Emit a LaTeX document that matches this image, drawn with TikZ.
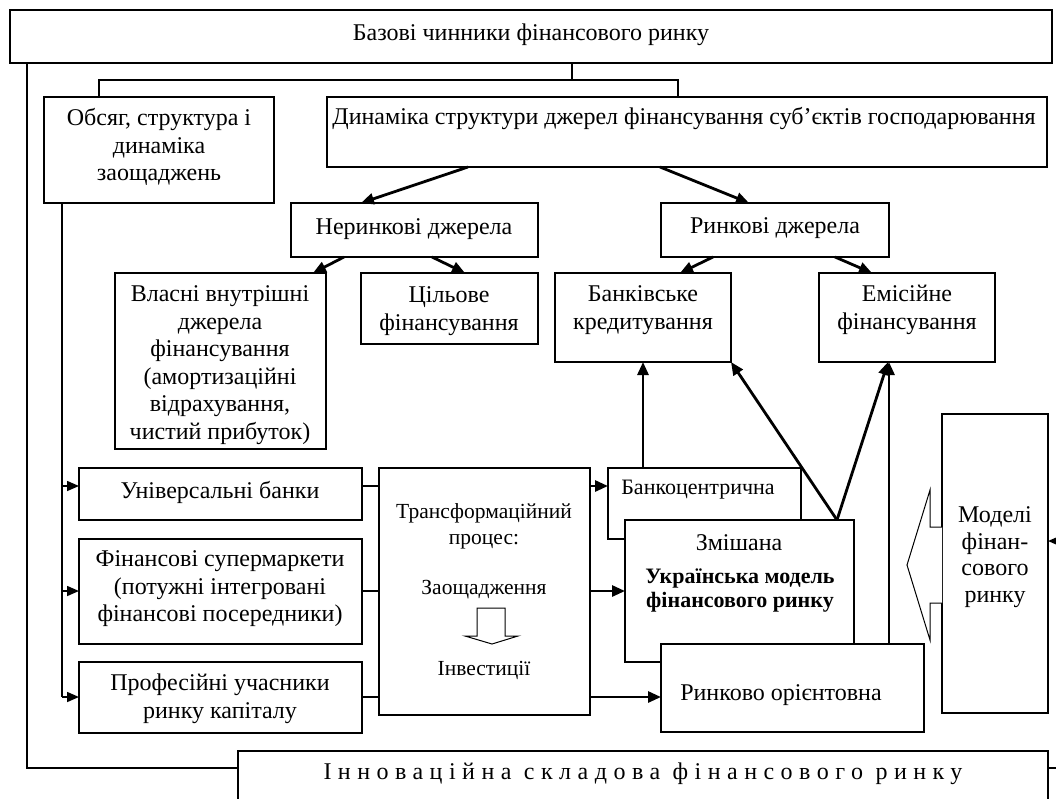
\documentclass[tikz,border=0pt]{standalone}
\usepackage{fontspec}
\setmainfont{Liberation Serif}
\usetikzlibrary{arrows.meta}
\newcommand\mybox[5]{\node[bx, minimum width={#4-#2}, minimum height={#5-#3}] (#1) at ({(#2+#4)/2},{(#3+#5)/2}) {};}
\begin{document}
\begin{tikzpicture}[x=1pt,y=-1pt,
  every node/.style={font=\fontsize{24}{27.5}\selectfont, inner sep=0pt, outer sep=0pt},
  bx/.style={draw, line width=1.3pt, fill=white},
  tx/.style={align=center},
  thinl/.style={line width=1.3pt},
  thk/.style={line width=2.8pt, -{Triangle[length=13pt,width=11pt]}},
  sarr/.style={line width=1.6pt, -{Triangle[length=12pt,width=10pt]}},
  hollow/.style={draw, line width=1pt, fill=white}]
\useasboundingbox (0,0) rectangle (1056,798);
% boxes
\mybox{top}{10}{10}{1052}{63}
\mybox{obs}{44}{97}{274}{203}
\mybox{dyn}{327}{97}{1047}{167}
\mybox{neri}{291}{203}{538}{257}
\mybox{rynk}{661}{203}{889}{257}
\mybox{vlas}{115}{273}{326}{449}
\mybox{cil}{361}{273}{538}{344}
\mybox{bank}{555}{273}{731}{362}
\mybox{emis}{819}{273}{995}{362}
\mybox{univ}{79}{468}{362}{520}
\mybox{fin}{79}{539}{362}{644}
\mybox{prof}{79}{662}{362}{733}
\mybox{trans}{379}{468}{590}{715}
\mybox{banko}{608}{468}{801}{539}
\mybox{zmish}{625}{520}{854}{662}
\mybox{rynko}{661}{644}{924}{732}
\mybox{mod}{942}{414}{1048}{713}
\mybox{innov}{238}{751}{1048}{801}
% texts
\node[tx] (t-top) at (531,35) {Базові чинники фінансового ринку};
\node[tx] (t-obs) at (159,147) {Обсяг, структура і\\динаміка\\заощаджень};
\node (t-dyn) at (684,118) {Динаміка структури джерел фінансування суб’єктів господарювання};
\node (t-neri) at (414,229) {Неринкові джерела};
\node (t-rynk) at (775,228) {Ринкові джерела};
\node[tx] (t-vlas) at (220,365) {Власні внутрішні\\джерела\\фінансування\\(амортизаційні\\відрахування,\\чистий прибуток)};
\node[tx] (t-cil) at (449,311) {Цільове\\фінансування};
\node[tx] (t-bank) at (643,310) {Банківське\\кредитування};
\node[tx] (t-emis) at (907,310) {Емісійне\\фінансування};
\node (t-univ) at (220,492) {Універсальні банки};
\node[tx] (t-fin) at (220,589) {Фінансові супермаркети\\(потужні інтегровані\\фінансові посередники)};
\node[tx] (t-prof) at (220,699) {Професійні учасники\\ринку капіталу};
\begin{scope}[every node/.append style={font=\fontsize{21.5}{26}\selectfont}]
\node[tx] (t-trans) at (484,526) {Трансформаційний\\процес:};
\node (t-zao) at (484,590) {Заощадження};
\node (t-inv) at (484,670) {Інвестиції};
\end{scope}
\node[font=\fontsize{22}{26}\selectfont] (t-banko) at (698,490) {Банкоцентрична};
\node (t-zmish) at (739,543) {Змішана};
\node[tx, font=\fontsize{22}{24}\selectfont\bfseries] (t-ukr) at (740,591) {Українська модель\\фінансового ринку};
\node (t-rynko) at (781,695) {Ринково орієнтовна};
\node[tx, font=\fontsize{24}{26.5}\selectfont] (t-mod) at (995,557) {Моделі\\фінан-\\сового\\ринку};
\node (t-innov) at (643,774) {\addfontfeature{LetterSpace=27}Інноваційна складова фінансового ринку};
% hollow arrows
\draw[hollow] (477,608) -- (505,608) -- (505,636) -- (518,636) -- (492,644) -- (465,636) -- (477,636) -- cycle;
\draw[hollow] (942,527) -- (930,527) -- (930,490) -- (907,565) -- (930,640) -- (930,603) -- (942,603);
% thin connectors
\coordinate (rb1) at (1056,541);
\coordinate (rb2) at (1056,768);
\draw[thinl] (top.south -| 572,0) -- (572,80);
\draw[thinl] (obs.north -| 99,0) -- (99,80) -- (678,80) -- (dyn.north -| 678,0);
\draw[thinl] (top.south -| 27,0) |- (innov.west |- 0,768);
\draw[thinl] (innov.east |- 0,768) -- (rb2);
\draw[sarr] (rb1) -- (mod.east |- 0,541);
\draw[thinl] (obs.south -| 62,0) -- (62,697);
\draw[sarr] (62,486) -- (univ.west |- 0,486);
\draw[sarr] (62,591) -- (fin.west |- 0,591);
\draw[sarr] (62,697) -- (prof.west |- 0,697);
\draw[thinl] (univ.east |- 0,486) -- (trans.west |- 0,486);
\draw[thinl] (fin.east |- 0,591) -- (trans.west |- 0,591);
\draw[thinl] (prof.east |- 0,697) -- (trans.west |- 0,697);
% thick arrows
\draw[thk] (trans.east |- 0,486) -- (banko.west |- 0,486);
\draw[thk] (trans.east |- 0,591) -- (zmish.west |- 0,591);
\draw[thk] (trans.east |- 0,697) -- (rynko.west |- 0,697);
\draw[thk] (banko.north -| 643,0) -- (bank.south -| 643,0);
\draw[thk] (zmish.north -| 837,0) -- (bank.south east);
\draw[thk] (zmish.north -| 837,0) -- (emis.south -| 888,0);
\draw[thk] (rynko.north -| 889,0) -- (emis.south -| 889,0);
\draw[thk] (dyn.south -| 468,0) -- (neri.north -| 361,0);
\draw[thk] (dyn.south -| 660,0) -- (rynk.north -| 749,0);
\draw[thk] (neri.south -| 344,0) -- (vlas.north -| 313,0);
\draw[thk] (neri.south -| 432,0) -- (cil.north -| 465,0);
\draw[thk] (rynk.south -| 713,0) -- (bank.north -| 680,0);
\draw[thk] (rynk.south -| 835,0) -- (emis.north -| 872,0);
\end{tikzpicture}
\end{document}
